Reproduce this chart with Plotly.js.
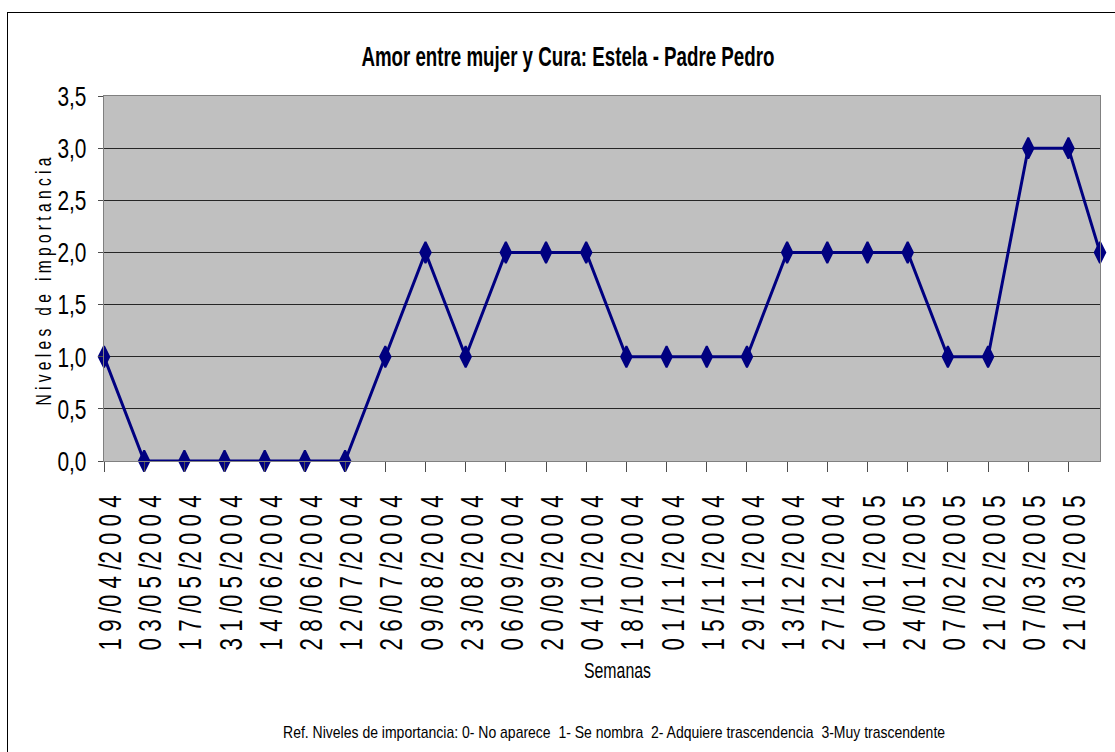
<!DOCTYPE html>
<html>
<head>
<meta charset="utf-8">
<script src="https://cdn.plot.ly/plotly-3.0.1.min.js"></script>
<style>
  html, body { margin: 0; padding: 0; background: #fff; }
  #chart { width: 1115px; height: 752px; position: relative; }
  #frame { position: absolute; left: 7px; top: 12px; width: 1200px; height: 800px;
           border: 1px solid #000; pointer-events: none; box-sizing: border-box; }
</style>
</head>
<body>
<div id="chart"></div>
<div id="frame"></div>
<script>
// ---- data ----
const fechas = [
  "2004-04-19","2004-05-03","2004-05-17","2004-05-31","2004-06-14","2004-06-28",
  "2004-07-12","2004-07-26","2004-08-09","2004-08-23","2004-09-06","2004-09-20",
  "2004-10-04","2004-10-18","2004-11-01","2004-11-15","2004-11-29","2004-12-13",
  "2004-12-27","2005-01-10","2005-01-24","2005-02-07","2005-02-21","2005-03-07",
  "2005-03-21","2005-04-01"
];
const niveles = [1,0,0,0,0,0,0,1,2,1,2,2,2,1,1,1,1,2,2,2,2,1,1,3,3,2];
const etiquetas = [
  "19/04/2004","03/05/2004","17/05/2004","31/05/2004","14/06/2004","28/06/2004",
  "12/07/2004","26/07/2004","09/08/2004","23/08/2004","06/09/2004","20/09/2004",
  "04/10/2004","18/10/2004","01/11/2004","15/11/2004","29/11/2004","13/12/2004",
  "27/12/2004","10/01/2005","24/01/2005","07/02/2005","21/02/2005","07/03/2005",
  "21/03/2005"
];
const yTicks = [0,0.5,1,1.5,2,2.5,3,3.5];

const titulo = "Amor entre mujer y Cura: Estela - Padre Pedro";
const tituloY = "N i v e l e s   d e   i m p o r t a n c i a";
const tituloX = "Semanas";
const nota = "Ref. Niveles de importancia: 0- No aparece  1- Se nombra  2- Adquiere trascendencia  3-Muy trascendente";

// spaced-out labels as in the original
function espaciar(s) {
  let out = "";
  for (let i = 0; i < s.length; i++) {
    out += s[i];
    if (i < s.length - 1 && s[i] !== "/") out += " ";
  }
  return out;
}
const tickVals = fechas.slice(0, etiquetas.length);
const tickText = etiquetas.map(espaciar);

const FONT = "'Liberation Sans', Arial, sans-serif";

const trace = {
  x: fechas,
  y: niveles,
  type: "scatter",
  mode: "lines+markers",
  line: { color: "#000080", width: 3 },
  marker: { symbol: "diamond-tall", size: 15, color: "#000080",
            line: { color: "#000080", width: 2 } },
  cliponaxis: false,
  hoverinfo: "x+y"
};

const layout = {
  width: 1115,
  height: 752,
  margin: { l: 104, r: 15, t: 96, b: 291 },
  paper_bgcolor: "#ffffff",
  plot_bgcolor: "#c0c0c0",
  separators: ",.",
  showlegend: false,
  font: { family: FONT, color: "#000" },
  xaxis: {
    type: "date",
    range: [fechas[0], fechas[fechas.length - 1]],
    tickmode: "array",
    tickvals: tickVals,
    ticktext: tickText,
    tickangle: -90,
    tickfont: { family: FONT, size: 31, color: "#000" },
    ticks: "outside",
    ticklen: 10,
    tickcolor: "#4d4d4d",
    ticklabelstandoff: 11,
    ticklabelshift: 7,
    showgrid: false,
    showline: true,
    linecolor: "#808080",
    linewidth: 1,
    mirror: true,
    zeroline: false
  },
  yaxis: {
    range: [0, 3.5],
    tickmode: "array",
    tickvals: yTicks,
    tickformat: ".1f",
    tickfont: { family: FONT, size: 28, color: "#000" },
    ticks: "outside",
    ticklen: 5,
    tickcolor: "#4d4d4d",
    ticklabelstandoff: 6,
    showgrid: true,
    gridcolor: "#262626",
    gridwidth: 1,
    showline: true,
    linecolor: "#808080",
    linewidth: 1,
    mirror: true,
    zeroline: false,
    title: { text: "" }
  },
  annotations: [
    {
      text: "<b>" + titulo + "</b>",
      xref: "paper", yref: "paper", x: 0.466, y: 1.107,
      xanchor: "center", yanchor: "middle", showarrow: false,
      font: { family: FONT, size: 28, color: "#000" }
    },
    {
      text: tituloY,
      xref: "paper", yref: "paper", x: -0.0613, y: 0.493,
      xanchor: "center", yanchor: "middle", showarrow: false, textangle: -90,
      font: { family: FONT, size: 22, color: "#000" }
    },
    {
      text: tituloX,
      xref: "paper", yref: "paper", x: 0.516, y: -0.575,
      xanchor: "center", yanchor: "middle", showarrow: false,
      font: { family: FONT, size: 22, color: "#000" }
    },
    {
      text: nota,
      xref: "paper", yref: "paper", x: 0.512, y: -0.745,
      xanchor: "center", yanchor: "middle", showarrow: false,
      font: { family: FONT, size: 17, color: "#000" }
    }
  ]
};

// horizontal widths (px) of the condensed lettering in the original
const anchoAnot = [413, 248, 67, 662];
const anchoTickX = 155;
const factorTickY = 0.745;

function condensar(t, ancho) {
  t.setAttribute("textLength", ancho.toFixed(2));
  t.setAttribute("lengthAdjust", "spacingAndGlyphs");
}

Plotly.newPlot("chart", [trace], layout, { displayModeBar: false }).then(function (gd) {
  gd.querySelectorAll(".xtick text").forEach(function (t) { condensar(t, anchoTickX); });
  gd.querySelectorAll(".ytick text").forEach(function (t) {
    condensar(t, t.getComputedTextLength() * factorTickY);
  });
  gd.querySelectorAll("text.annotation-text").forEach(function (t, i) {
    if (anchoAnot[i]) condensar(t, anchoAnot[i]);
  });
});
</script>
</body>
</html>
